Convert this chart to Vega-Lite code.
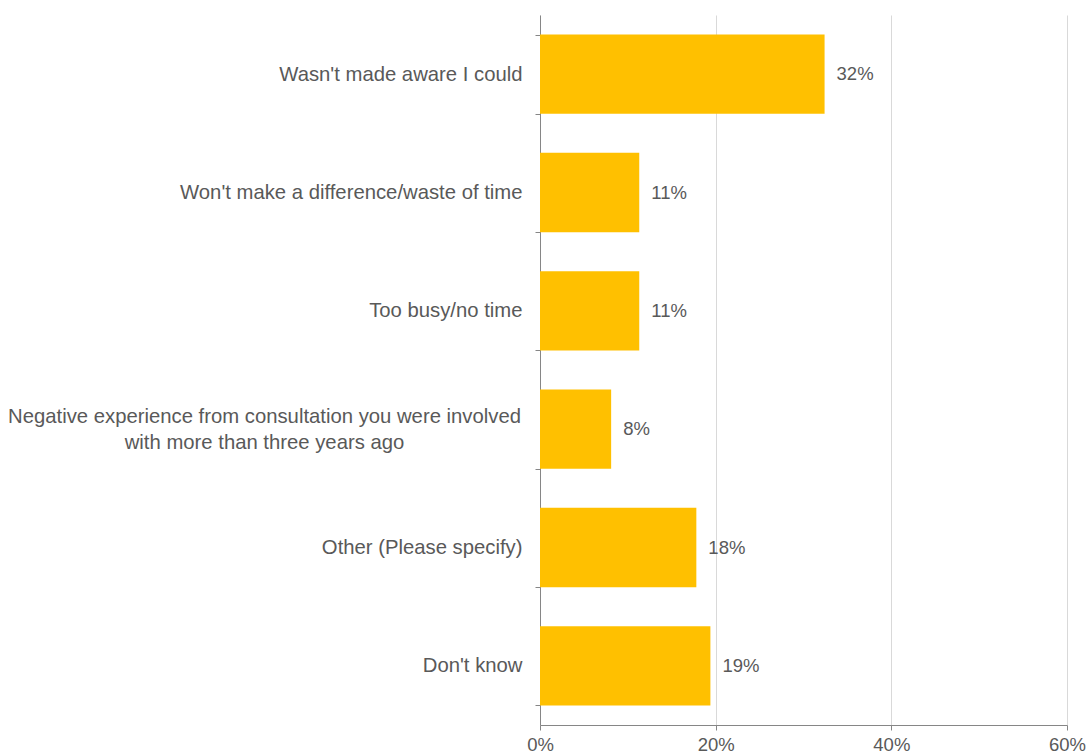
{
  "$schema": "https://vega.github.io/schema/vega-lite/v6.json",
  "width": 527,
  "height": 710,
  "autosize": "none",
  "padding": {"left": 540, "top": 15, "right": 19, "bottom": 31},
  "background": "white",
  "data": {
    "values": [
      {"reason": "Wasn't made aware I could", "pct": 0.324, "label": "32%"},
      {"reason": "Won't make a difference/waste of time", "pct": 0.113, "label": "11%"},
      {"reason": "Too busy/no time", "pct": 0.113, "label": "11%"},
      {"reason": "Negative experience from consultation you were involved|with more than three years ago", "pct": 0.081, "label": "8%"},
      {"reason": "Other (Please specify)", "pct": 0.178, "label": "18%"},
      {"reason": "Don't know", "pct": 0.194, "label": "19%"}
    ]
  },
  "config": {
    "view": {"stroke": null},
    "font": "Liberation Sans"
  },
  "encoding": {
    "x": {
      "field": "pct",
      "type": "quantitative",
      "title": null,
      "scale": {"domain": [0, 0.6], "nice": false},
      "axis": {
        "values": [0, 0.2, 0.4, 0.6],
        "format": ".0%",
        "labelFont": "Liberation Sans",
        "labelFontSize": 18.5,
        "labelColor": "#595959",
        "labelPadding": 5,
        "tickSize": 5,
        "tickColor": "#868686",
        "domainColor": "#868686",
        "grid": true,
        "gridColor": "#D9D9D9",
        "labelFlush": false
      }
    }
  },
  "layer": [
    {
      "mark": {"type": "bar", "color": "#FFC000"},
      "encoding": {
        "y": {
          "field": "reason",
          "type": "nominal",
          "sort": null,
          "title": null,
          "scale": {"paddingInner": 0.33, "paddingOuter": 0.165},
          "axis": {
            "orient": "left",
            "labelExpr": "datum.value && indexof(datum.value, '|') < 0 ? datum.value : ''",
            "labelFont": "Liberation Sans",
            "labelFontSize": 20.3,
            "labelColor": "#595959",
            "labelPadding": 13,
            "labelLimit": 700,
            "tickBand": "extent",
            "tickSize": 5,
            "tickColor": "#868686",
            "domainColor": "#868686",
            "grid": false
          }
        }
      }
    },
    {
      "mark": {"type": "text", "align": "left", "dx": 12, "fontSize": 18.5, "color": "#595959", "font": "Liberation Sans"},
      "encoding": {
        "y": {
          "field": "reason",
          "type": "nominal",
          "sort": null,
          "title": null,
          "axis": {
            "orient": "left",
            "labelExpr": "datum.value && indexof(datum.value, '|') >= 0 ? split(datum.value, '|') : ''",
            "labelFont": "Liberation Sans",
            "labelFontSize": 20.3,
            "labelColor": "#595959",
            "labelAlign": "center",
            "labelPadding": 276,
            "labelLineHeight": 26,
            "labelOffset": -12,
            "labelLimit": 700,
            "ticks": false,
            "domain": false,
            "grid": false
          }
        },
        "text": {"field": "label"}
      }
    }
  ],
  "resolve": {"axis": {"y": "independent"}}
}
